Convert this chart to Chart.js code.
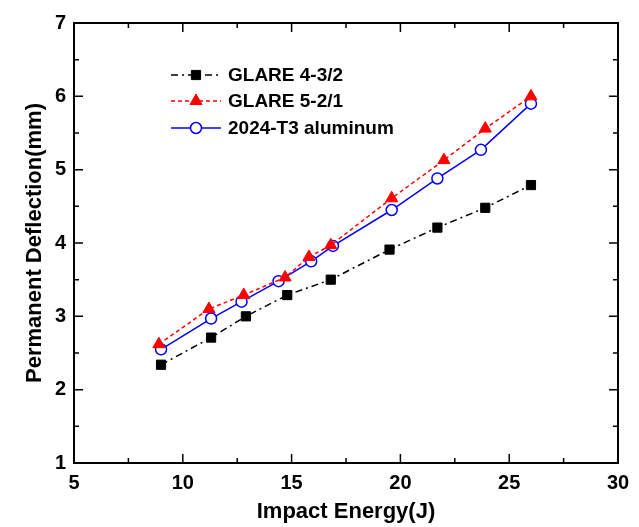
<!DOCTYPE html>
<html>
<head>
<meta charset="utf-8">
<script src="https://cdn.jsdelivr.net/npm/chart.js@4.4.1/dist/chart.umd.min.js"></script>
<style>
  html, body { margin: 0; padding: 0; background: #fff; }
  #wrap { width: 639px; height: 527px; }
</style>
</head>
<body>
<div id="wrap"><canvas id="chart" width="639" height="527"></canvas></div>
<script>
// Data
const seriesNames = ['GLARE 4-3/2', 'GLARE 5-2/1', '2024-T3 aluminum'];

const glare432X = [9.0, 11.3, 12.9, 14.8, 16.8, 19.5, 21.7, 23.9, 26.0];
const glare432Y = [2.34, 2.71, 3.00, 3.29, 3.50, 3.91, 4.21, 4.48, 4.79];

const glare521X = [8.9, 11.2, 12.8, 14.7, 15.8, 16.8, 19.6, 22.0, 23.9, 26.0];
const glare521Y = [2.62, 3.10, 3.29, 3.53, 3.81, 3.97, 4.61, 5.13, 5.56, 6.00];

const alumX = [9.0, 11.3, 12.7, 14.4, 15.9, 16.9, 19.6, 21.7, 23.7, 26.0];
const alumY = [2.55, 2.97, 3.20, 3.48, 3.75, 3.96, 4.45, 4.88, 5.27, 5.90];

const xTicks = [5, 10, 15, 20, 25, 30];
const yTicks = [1, 2, 3, 4, 5, 6, 7];

function toPoints(xs, ys) {
    return xs.map((x, i) => ({ x: x, y: ys[i] }));
}

const FONT = '"Liberation Sans", Arial, sans-serif';

// frame with inward ticks on all four sides
const framePlugin = {
    id: 'frame',
    afterDraw(chart) {
        const ctx = chart.ctx;
        const a = chart.chartArea;
        const xs = chart.scales.x, ys = chart.scales.y;
        ctx.save();
        ctx.strokeStyle = '#000';
        ctx.lineWidth = 2;
        ctx.strokeRect(a.left, a.top, a.right - a.left, a.bottom - a.top);
        ctx.lineWidth = 1.5;
        ctx.beginPath();
        for (let v = 5; v <= 30; v += 2.5) {
            const px = xs.getPixelForValue(v);
            const len = (v % 5 === 0) ? 9 : 5;
            ctx.moveTo(px, a.bottom); ctx.lineTo(px, a.bottom - len);
            ctx.moveTo(px, a.top); ctx.lineTo(px, a.top + len);
        }
        for (let v = 1; v <= 7; v += 0.5) {
            const py = ys.getPixelForValue(v);
            const len = (v % 1 === 0) ? 9 : 5;
            ctx.moveTo(a.left, py); ctx.lineTo(a.left + len, py);
            ctx.moveTo(a.right, py); ctx.lineTo(a.right - len, py);
        }
        ctx.stroke();
        ctx.restore();
    }
};

function drawMarker(ctx, style, r, x, y) {
    if (style === 'rect') {
        const s = r * Math.SQRT1_2;
        ctx.rect(x - s, y - s, 2 * s, 2 * s);
    } else if (style === 'triangle') {
        ctx.moveTo(x, y - r);
        ctx.lineTo(x + r * 0.866, y + r / 2);
        ctx.lineTo(x - r * 0.866, y + r / 2);
        ctx.closePath();
    } else {
        ctx.arc(x, y, r, 0, Math.PI * 2);
    }
}

// legend: line sample + marker + bold label
const legendPlugin = {
    id: 'customLegend',
    afterDraw(chart) {
        const ctx = chart.ctx;
        const rows = [75, 101, 128];
        chart.data.datasets.forEach((ds, i) => {
            const y = rows[i];
            ctx.save();
            ctx.strokeStyle = ds.borderColor;
            ctx.lineWidth = ds.borderWidth;
            ctx.setLineDash(ds.borderDash || []);
            ctx.beginPath();
            ctx.moveTo(171, y);
            ctx.lineTo(221, y);
            ctx.stroke();
            ctx.setLineDash([]);
            ctx.fillStyle = ds.pointBackgroundColor;
            ctx.strokeStyle = ds.pointBorderColor;
            ctx.lineWidth = ds.pointBorderWidth;
            ctx.beginPath();
            drawMarker(ctx, ds.pointStyle, ds.pointRadius, 196, y);
            ctx.fill();
            ctx.stroke();
            ctx.fillStyle = '#000';
            ctx.font = 'bold 19px ' + FONT;
            ctx.textBaseline = 'middle';
            ctx.fillText(seriesNames[i], 228, y + 1);
            ctx.restore();
        });
    }
};

new Chart(document.getElementById('chart'), {
    type: 'scatter',
    data: {
        datasets: [
            {
                label: seriesNames[0],
                data: toPoints(glare432X, glare432Y),
                showLine: true,
                borderColor: '#000',
                borderWidth: 1.5,
                borderDash: [7, 4, 2, 4],
                pointStyle: 'rect',
                pointRadius: 6.5,
                pointBackgroundColor: '#000',
                pointBorderColor: '#000',
                pointBorderWidth: 1
            },
            {
                label: seriesNames[1],
                data: toPoints(glare521X, glare521Y),
                showLine: true,
                borderColor: '#ff0000',
                borderWidth: 1.5,
                borderDash: [4, 3],
                pointStyle: 'triangle',
                pointRadius: 7,
                pointBackgroundColor: '#ff0000',
                pointBorderColor: '#ff0000',
                pointBorderWidth: 1
            },
            {
                label: seriesNames[2],
                data: toPoints(alumX, alumY),
                showLine: true,
                borderColor: '#0000ff',
                borderWidth: 1.5,
                pointStyle: 'circle',
                pointRadius: 5.5,
                pointBackgroundColor: '#ffffff',
                pointBorderColor: '#0000ff',
                pointBorderWidth: 1.5
            }
        ]
    },
    options: {
        responsive: false,
        animation: false,
        layout: { padding: { top: 23, right: 21, left: 0, bottom: 0 } },
        plugins: {
            legend: { display: false },
            tooltip: { enabled: false }
        },
        scales: {
            x: {
                type: 'linear',
                min: 5, max: 30,
                afterFit: s => { s.height = 64; },
                afterBuildTicks: s => { s.ticks = xTicks.map(v => ({ value: v })); },
                grid: { display: false, drawTicks: false },
                border: { display: false },
                ticks: {
                    padding: 8,
                    color: '#000',
                    font: { family: FONT, size: 20, weight: 'bold' }
                },
                title: {
                    display: true,
                    text: 'Impact Energy(J)',
                    color: '#000',
                    padding: { top: 4, bottom: 2 },
                    font: { family: FONT, size: 22, weight: 'bold' }
                }
            },
            y: {
                type: 'linear',
                min: 1, max: 7,
                afterFit: s => { s.width = 74; },
                afterBuildTicks: s => { s.ticks = yTicks.map(v => ({ value: v })); },
                grid: { display: false, drawTicks: false },
                border: { display: false },
                ticks: {
                    padding: 8,
                    color: '#000',
                    font: { family: FONT, size: 20, weight: 'bold' }
                },
                title: {
                    display: true,
                    text: 'Permanent Deflection(mm)',
                    color: '#000',
                    padding: { top: 22, bottom: 2 },
                    font: { family: FONT, size: 22, weight: 'bold' }
                }
            }
        }
    },
    plugins: [framePlugin, legendPlugin]
});
</script>
</body>
</html>
